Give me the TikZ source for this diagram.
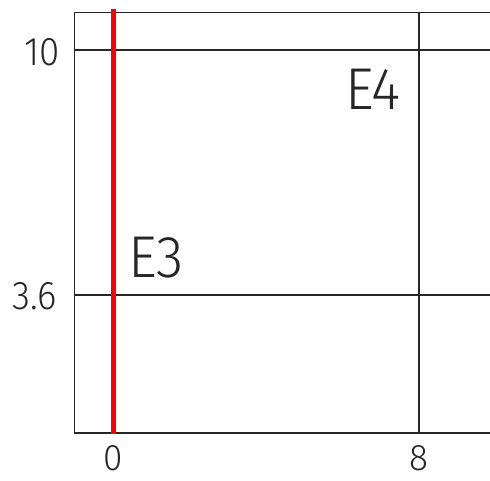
\documentclass[tikz,border=0pt]{standalone}
\usepackage{fontspec}
\newfontfamily\cadfont{Fira Sans}[UprightFont={* Light}]
\begin{document}
\begin{tikzpicture}[x=1pt,y=-1pt,
  gridline/.style={draw=black!85,line width=1.4pt},
  axisline/.style={draw=red,line width=5pt},
  dimlabel/.style={font=\cadfont\fontsize{40}{40}\selectfont,text=black!85,inner sep=0pt,xscale=0.92},
  bottomlabel/.style={font=\cadfont\fontsize{37}{37}\selectfont,text=black!85,inner sep=0pt,xscale=0.95},
  elemlabel/.style={font=\cadfont\fontsize{59}{59}\selectfont,text=black!85,inner sep=0pt,xscale=0.95}]
\useasboundingbox (0,0) rectangle (490,481);
% frame and grid
\coordinate (tl) at (74.5,12.5);
\coordinate (bl) at (74.5,433);
\coordinate (tr) at (490,12.5);
\coordinate (br) at (490,433);
\draw[gridline] (tr) -- (tl) -- (bl) -- (br);
\coordinate (h10l) at (74.5,50);
\coordinate (h10r) at (490,50);
\coordinate (h36l) at (74.5,295);
\coordinate (h36r) at (490,295);
\draw[gridline] (h10l) -- (h10r);
\draw[gridline] (h36l) -- (h36r);
\coordinate (v8t) at (419,12.5);
\coordinate (v8b) at (419,433);
\draw[gridline] (v8t) -- (v8b);
% red element E3
\coordinate (rt) at (113,9);
\coordinate (rb) at (113,434);
\draw[axisline] (rt) -- (rb);
% labels
\node[dimlabel] (l10) at (42,52) {10};
\node[dimlabel] (l36) at (35,296) {3.6};
\node[bottomlabel] (l0) at (113,458) {0};
\node[bottomlabel] (l8) at (419,458) {8};
\node[elemlabel] (e4) at (373,89) {E4};
\node[elemlabel] (e3) at (156,258) {E3};
\end{tikzpicture}
\end{document}
